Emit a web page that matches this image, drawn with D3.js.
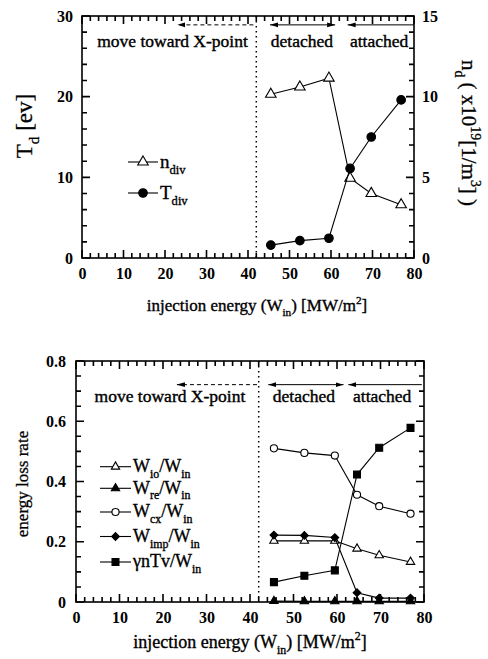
<!DOCTYPE html>
<html>
<head>
<meta charset="utf-8">
<script src="https://cdn.jsdelivr.net/npm/d3@7"></script>
<style>
  body { margin: 0; background: #fff; }
  text { font-family: "Liberation Serif", "Times New Roman", serif; fill: #000; }
</style>
</head>
<body>
<div id="plot"></div>
<script>
// x positions shared by both panels (injection energy, MW/m^2)
const energy = [45.5, 52.5, 59.5, 64.6, 69.7, 76.9];

// top panel
const nDiv = [10.15, 10.6, 11.15, 4.95, 4.0, 3.3];   // right axis, x10^19 1/m^3
const tDiv = [1.6, 2.15, 2.45, 11.1, 15.0, 19.6];    // left axis, eV

// bottom panel, energy loss rates
const wIo = [0.203, 0.203, 0.203, 0.177, 0.155, 0.133];
const wRe = [0.003, 0.002, 0.002, 0.002, 0.002, 0.002];
const wCx = [0.51, 0.495, 0.486, 0.356, 0.318, 0.293];
const wImp = [0.222, 0.221, 0.214, 0.031, 0.013, 0.013];
const gnTv = [0.066, 0.087, 0.105, 0.423, 0.512, 0.578];

// tick labels
const xTicks = [0, 10, 20, 30, 40, 50, 60, 70, 80];
const tdTicks = [0, 10, 20, 30];
const ndTicks = [0, 5, 10, 15];
const lossTicks = [0, 0.2, 0.4, 0.6, 0.8];

const svg = d3.select("#plot")
    .append("svg")
    .attr("width", 488)
    .attr("height", 659);

// arrow head marker
svg.append("defs").append("marker")
    .attr("id", "head")
    .attr("viewBox", "0 0 8 6")
    .attr("refX", 8).attr("refY", 3)
    .attr("markerWidth", 8).attr("markerHeight", 6)
    .attr("markerUnits", "userSpaceOnUse")
    .attr("orient", "auto-start-reverse")
    .append("path")
    .attr("d", "M0,0.6L8,3L0,5.4Z")
    .attr("fill", "#000");

// text with sub/superscripts: parts = [[string, "sub"|"sup"|null], ...]
function rich(t, parts, size) {
    let shift = 0;
    parts.forEach(([s, kind]) => {
        const target = kind === "sub" ? size * 0.32 : kind === "sup" ? -size * 0.42 : 0;
        t.append("tspan")
            .attr("dy", target - shift)
            .attr("font-size", kind ? size * 0.66 : size)
            .text(s);
        shift = target;
    });
    return t;
}

// inward ticks on all four sides, then the frame
function ticks(g, x, y, xMinor, xMajor, yMinor, yMajor) {
    const [left, right] = x.range();
    const [bottom, topY] = y.range();
    const len = (v, major) => major.some(m => Math.abs(m - v) < 1e-9) ? 8 : 5;
    const path = d3.path();
    xMinor.forEach(d => {
        const px = x(d), l = len(d, xMajor);
        path.moveTo(px, bottom); path.lineTo(px, bottom - l);
        path.moveTo(px, topY); path.lineTo(px, topY + l);
    });
    yMinor.forEach(d => {
        const py = y(d), l = len(d, yMajor);
        path.moveTo(left, py); path.lineTo(left + l, py);
        path.moveTo(right, py); path.lineTo(right - l, py);
    });
    g.append("path")
        .attr("d", path.toString())
        .attr("fill", "none")
        .attr("stroke", "#000")
        .attr("stroke-width", 1.6);
    g.append("rect")
        .attr("x", left).attr("y", topY)
        .attr("width", right - left).attr("height", bottom - topY)
        .attr("fill", "none").attr("stroke", "#000").attr("stroke-width", 1.6);
}

function labels(g, axis, ty, size, fmt) {
    g.append("g")
        .attr("transform", ty)
        .call(axis.tickSize(0).tickFormat(fmt))
        .call(s => s.select(".domain").remove())
        .call(s => s.attr("font-family", null).attr("font-size", null))
        .selectAll("text")
        .attr("font-size", size)
        .attr("font-weight", "bold");
}

// regime annotations: dotted divider, arrows and labels
function regimes(g, x, yRange, yPix, tyPix, spec) {
    const [yb, yt] = yRange;
    g.append("line")
        .attr("x1", x(42)).attr("x2", x(42))
        .attr("y1", yt).attr("y2", yb)
        .attr("stroke", "#000").attr("stroke-width", 1.5)
        .attr("stroke-dasharray", "1.5,3.5");
    g.append("line")
        .attr("x1", x(spec.dash[0])).attr("x2", x(spec.dash[1]))
        .attr("y1", yPix).attr("y2", yPix)
        .attr("stroke", "#000").attr("stroke-dasharray", "4,3")
        .attr("marker-end", "url(#head)");
    g.append("line")
        .attr("x1", x(spec.det[0])).attr("x2", x(spec.det[1]))
        .attr("y1", yPix).attr("y2", yPix)
        .attr("stroke", "#000")
        .attr("marker-start", "url(#head)")
        .attr("marker-end", "url(#head)");
    g.append("line")
        .attr("x1", x(spec.att[0])).attr("x2", x(spec.att[1]))
        .attr("y1", yPix).attr("y2", yPix)
        .attr("stroke", "#000")
        .attr("marker-end", "url(#head)");
    [["move toward X-point", spec.tx[0]], ["detached", spec.tx[1]], ["attached", spec.tx[2]]]
        .forEach(([s, c]) => {
            g.append("text")
                .attr("x", x(c)).attr("y", tyPix)
                .attr("text-anchor", "middle")
                .attr("font-size", 17.5)
                .attr("stroke", "#000").attr("stroke-width", 0.4)
                .text(s);
        });
}

function series(g, x, y, vals, sym, size, filled, rot) {
    const pts = energy.map((e, i) => [x(e), y(vals[i])]);
    g.append("path")
        .attr("d", d3.line()(pts))
        .attr("fill", "none").attr("stroke", "#000").attr("stroke-width", 1.1);
    g.selectAll(null).data(pts).join("path")
        .attr("d", d3.symbol(sym, size)())
        .attr("transform", d => `translate(${d[0]},${d[1]}) rotate(${rot || 0})`)
        .attr("fill", filled ? "#000" : "#fff")
        .attr("stroke", "#000").attr("stroke-width", 1.1);
}

function legendRow(g, x0, x1, y, sym, size, filled, rot, parts, fs) {
    g.append("line").attr("x1", x0).attr("x2", x1).attr("y1", y).attr("y2", y)
        .attr("stroke", "#000").attr("stroke-width", 1.1);
    g.append("path")
        .attr("d", d3.symbol(sym, size)())
        .attr("transform", `translate(${(x0 + x1) / 2},${y}) rotate(${rot || 0})`)
        .attr("fill", filled ? "#000" : "#fff")
        .attr("stroke", "#000").attr("stroke-width", 1.1);
    rich(g.append("text").attr("x", x1 + 2).attr("y", y + fs * 0.3)
        .attr("stroke", "#000").attr("stroke-width", 0.35), parts, fs);
}

// ---------- top panel ----------
const upper = svg.append("g");
const x1 = d3.scaleLinear().domain([0, 80]).range([82, 414]);
const yT = d3.scaleLinear().domain([0, 30]).range([258, 16]);
const yN = d3.scaleLinear().domain([0, 15]).range([258, 16]);

ticks(upper, x1, yT, d3.range(0, 81, 2), xTicks, d3.range(0, 31, 2), tdTicks);
labels(upper, d3.axisBottom(x1).tickValues(xTicks).tickPadding(10), "translate(0,258)", 16, d3.format("d"));
labels(upper, d3.axisLeft(yT).tickValues(tdTicks).tickPadding(9), "translate(82,0)", 16, d3.format("d"));
labels(upper, d3.axisRight(yN).tickValues(ndTicks).tickPadding(8), "translate(414,0)", 16, d3.format("d"));

regimes(upper, x1, yT.range(), yT(28.9), yT(26.15), {
    dash: [41.3, 23], det: [45.3, 61], att: [80, 64], tx: [21.8, 53, 71.6]
});

series(upper, x1, yN, nDiv, d3.symbolTriangle, 48, false);
series(upper, x1, yT, tDiv, d3.symbolCircle, 58, true);

legendRow(upper, 128, 158, 162, d3.symbolTriangle, 48, false, 0, [["n", null], ["div", "sub"]], 19);
legendRow(upper, 128, 158, 193, d3.symbolCircle, 58, true, 0, [["T", null], ["div", "sub"]], 19);

rich(upper.append("text")
    .attr("transform", "translate(32,126) rotate(-90)")
    .attr("text-anchor", "middle")
    .attr("stroke", "#000").attr("stroke-width", 0.3),
    [["T", null], ["d", "sub"], [" [ev]", null]], 23);

rich(upper.append("text")
    .attr("transform", "translate(462,133) rotate(90)")
    .attr("text-anchor", "middle")
    .attr("stroke", "#000").attr("stroke-width", 0.3),
    [["n", null], ["d", "sub"], [" ( x10", null], ["19", "sup"], ["[1/m", null], ["3", "sup"], ["] )", null]], 21);

rich(upper.append("text")
    .attr("x", 257).attr("y", 311)
    .attr("text-anchor", "middle")
    .attr("stroke", "#000").attr("stroke-width", 0.35),
    [["injection energy (W", null], ["in", "sub"], [") [MW/m", null], ["2", "sup"], ["]", null]], 17);

// ---------- bottom panel ----------
const lower = svg.append("g");
const x2 = d3.scaleLinear().domain([0, 80]).range([76, 424]);
const yL = d3.scaleLinear().domain([0, 0.8]).range([602, 361]);

ticks(lower, x2, yL, d3.range(0, 81, 2), xTicks, d3.range(0, 0.801, 0.05), lossTicks);
labels(lower, d3.axisBottom(x2).tickValues(xTicks).tickPadding(10), "translate(0,602)", 16, d3.format("d"));
labels(lower, d3.axisLeft(yL).tickValues(lossTicks).tickPadding(10), "translate(76,0)", 16, d => d === 0 ? "0" : d3.format(".1f")(d));

regimes(lower, x2, yL.range(), yL(0.7215), yL(0.664), {
    dash: [41.6, 23.2], det: [44.2, 61.5], att: [79.5, 62.6], tx: [21.6, 52.4, 70.4]
});

series(lower, x2, yL, wIo, d3.symbolTriangle, 30, false);
series(lower, x2, yL, wRe, d3.symbolTriangle, 30, true);
series(lower, x2, yL, wCx, d3.symbolCircle, 40, false);
series(lower, x2, yL, wImp, d3.symbolSquare, 30, true, 45);
series(lower, x2, yL, gnTv, d3.symbolSquare, 48, true);

const legY = [466.7, 488.3, 512, 536.5, 562];
legendRow(lower, 100, 131, legY[0], d3.symbolTriangle, 30, false, 0, [["W", null], ["io", "sub"], ["/W", null], ["in", "sub"]], 18);
legendRow(lower, 100, 131, legY[1], d3.symbolTriangle, 30, true, 0, [["W", null], ["re", "sub"], ["/W", null], ["in", "sub"]], 18);
legendRow(lower, 100, 131, legY[2], d3.symbolCircle, 40, false, 0, [["W", null], ["cx", "sub"], ["/W", null], ["in", "sub"]], 18);
legendRow(lower, 100, 131, legY[3], d3.symbolSquare, 30, true, 45, [["W", null], ["imp", "sub"], ["/W", null], ["in", "sub"]], 18);
legendRow(lower, 100, 131, legY[4], d3.symbolSquare, 48, true, 0, [["γnTv/W", null], ["in", "sub"]], 18);

lower.append("text")
    .attr("transform", "translate(28,484) rotate(-90)")
    .attr("text-anchor", "middle")
    .attr("font-size", 17)
    .attr("stroke", "#000").attr("stroke-width", 0.3)
    .text("energy loss rate");

rich(lower.append("text")
    .attr("x", 250).attr("y", 648)
    .attr("text-anchor", "middle")
    .attr("stroke", "#000").attr("stroke-width", 0.35),
    [["injection energy  (W", null], ["in", "sub"], [")  [MW/m", null], ["2", "sup"], ["]", null]], 18);
</script>
</body>
</html>
